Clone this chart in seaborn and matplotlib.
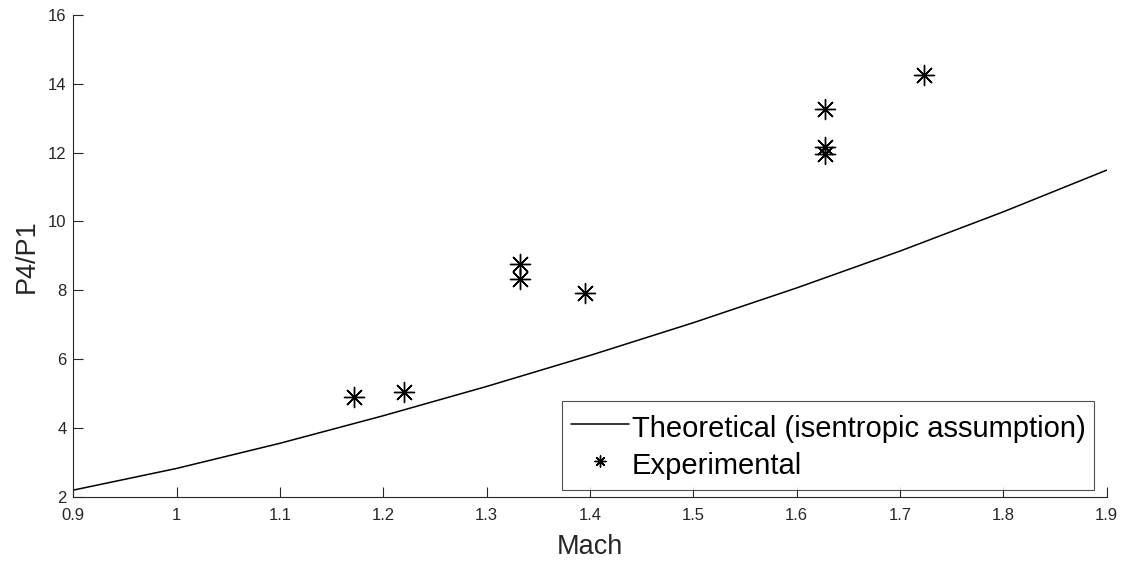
import numpy as np
import pandas as pd
import matplotlib
matplotlib.use("Agg")
import matplotlib.pyplot as plt
import seaborn as sns

# theoretical curve
mach_theory = [0.9, 1.0, 1.1, 1.2, 1.3, 1.4, 1.5, 1.6, 1.7, 1.8, 1.9]
p41_theory = [2.20, 2.83, 3.56, 4.36, 5.21, 6.11, 7.06, 8.07, 9.14, 10.28, 11.49]

# experimental points
mach_exp = [1.172, 1.220, 1.332, 1.332, 1.395, 1.627, 1.627, 1.627, 1.7235]
p41_exp = [4.91, 5.05, 8.76, 8.32, 7.93, 13.25, 12.15, 11.96, 14.25]

theory = pd.DataFrame({"Mach": mach_theory, "P4/P1": p41_theory})
exp = pd.DataFrame({"Mach": mach_exp, "P4/P1": p41_exp})

sns.set_style("ticks")
plt.rcParams['font.family'] = ['Liberation Sans', 'DejaVu Sans']

fig = plt.figure(figsize=(11.3, 5.68), dpi=100)
ax = fig.add_axes([0.0649, 0.125, 0.9145, 0.849])

sns.lineplot(data=theory, x="Mach", y="P4/P1", color="black", linewidth=1.1,
             label="Theoretical (isentropic assumption)", ax=ax)
sns.scatterplot(data=exp, x="Mach", y="P4/P1", marker=(8, 2, 0), s=210,
                color="black", edgecolor="black", linewidth=1.0,
                label="Experimental", ax=ax)

ax.set_xlim(0.9, 1.9)
ax.set_ylim(2, 16)
ax.set_xticks(np.arange(0.9, 1.91, 0.1))
ax.set_xticklabels(["0.9", "1", "1.1", "1.2", "1.3", "1.4", "1.5", "1.6", "1.7", "1.8", "1.9"])
ax.set_yticks(range(2, 17, 2))

sns.despine(ax=ax)
for s in ["left", "bottom"]:
    ax.spines[s].set_color("#262626")
    ax.spines[s].set_linewidth(0.8)
ax.tick_params(direction="in", length=7.5, width=0.8, color="#262626",
               labelcolor="#262626", labelsize=12)
ax.tick_params(axis="x", pad=8)
ax.tick_params(axis="y", pad=5)

ax.set_xlabel("Mach", fontsize=19.5, color="#262626", labelpad=8)
ax.set_ylabel("P4/P1", fontsize=19.5, color="#262626", labelpad=6)

leg = ax.legend(loc="lower right", bbox_to_anchor=(0.988, 0.0137),
                borderaxespad=0, fontsize=21, frameon=True, fancybox=False,
                edgecolor="#262626", handlelength=2.0, handletextpad=0.1,
                handleheight=1.45, labelspacing=0.08, borderpad=0.3,
                markerscale=0.55, labelcolor="black")
leg.get_frame().set_linewidth(0.8)

fig.savefig("out.png", dpi=100, facecolor="white")
